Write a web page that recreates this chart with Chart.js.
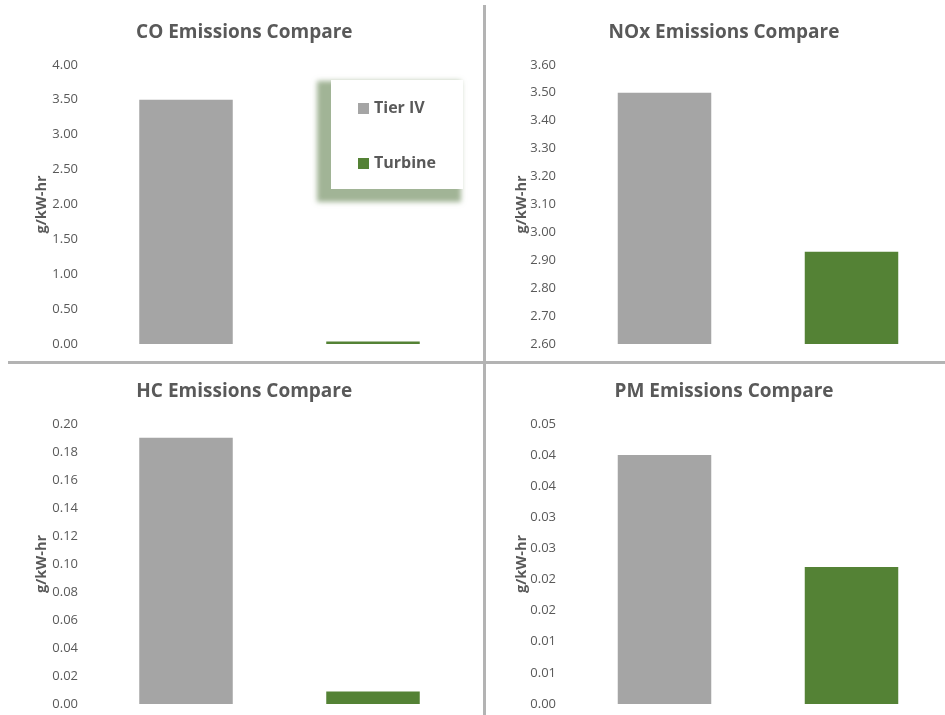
<!DOCTYPE html>
<html>
<head>
<meta charset="utf-8">
<script src="https://cdn.jsdelivr.net/npm/chart.js@4/dist/chart.umd.min.js"></script>
<style>
  html, body { margin: 0; padding: 0; background: #fff; }
  body { width: 945px; height: 715px; position: relative; overflow: hidden; font-family: "Open Sans", sans-serif; }
  canvas { position: absolute; }
  .sep { position: absolute; background: #b3b3b3; }
  #legend {
    position: absolute; left: 331px; top: 80px; width: 132px; height: 109px;
    background: #fff; box-shadow: -8px 7px 5px 6px rgba(130, 155, 115, 0.75);
  }
  .item { position: absolute; left: 27px; font-weight: 700; font-size: 16px; color: #595959; line-height: 20px; }
  .item span { display: inline-block; width: 11px; height: 11px; margin-right: 5px; vertical-align: -1px; }
</style>
</head>
<body>
<canvas id="chartCO" width="467" height="359" style="left:22px;top:0"></canvas>
<canvas id="chartNOx" width="442" height="359" style="left:503px;top:0"></canvas>
<canvas id="chartHC" width="467" height="356" style="left:22px;top:359px"></canvas>
<canvas id="chartPM" width="442" height="356" style="left:503px;top:359px"></canvas>
<div class="sep" style="left:483px;top:5px;width:3px;height:710px"></div>
<div class="sep" style="left:8px;top:361px;width:937px;height:3px"></div>
<div id="legend">
  <div class="item" style="top:17px"><span style="background:#a5a5a5"></span>Tier IV</div>
  <div class="item" style="top:72px"><span style="background:#548235"></span>Turbine</div>
</div>
<script>
const categories = ['Tier IV', 'Turbine'];
const colores = ['#a5a5a5', '#548235'];

const coValues = [3.50, 0.035];
const noxValues = [3.50, 2.93];
const hcValues = [0.19, 0.009];
const pmValues = [0.040, 0.022];

const coTicks = ['0.00', '0.50', '1.00', '1.50', '2.00', '2.50', '3.00', '3.50', '4.00'];
const noxTicks = ['2.60', '2.70', '2.80', '2.90', '3.00', '3.10', '3.20', '3.30', '3.40', '3.50', '3.60'];
const hcTicks = ['0.00', '0.02', '0.04', '0.06', '0.08', '0.10', '0.12', '0.14', '0.16', '0.18', '0.20'];
const pmTicks = ['0.00', '0.01', '0.01', '0.02', '0.02', '0.03', '0.03', '0.04', '0.04', '0.05'];

const gris = '#595959';

function crearGrafica(id, titulo, valores, etiquetas, min, max, paso, izq, arriba) {
    new Chart(document.getElementById(id), {
        type: 'bar',
        data: {
            labels: categories,
            datasets: [{
                label: titulo,
                data: valores,
                backgroundColor: colores,
                borderWidth: 0,
                barPercentage: 0.5,
                categoryPercentage: 1
            }]
        },
        options: {
            responsive: false,
            animation: false,
            layout: { padding: { left: 0, right: izq ? 22.5 : 0, top: 0, bottom: arriba ? 15 : 11 } },
            plugins: {
                legend: { display: false },
                tooltip: { enabled: false },
                title: {
                    display: true,
                    text: titulo,
                    color: gris,
                    font: { family: 'Open Sans', size: 19, weight: '700' },
                    padding: { top: 21, bottom: 21 }
                }
            },
            scales: {
                x: { display: false },
                y: {
                    min: min,
                    max: max,
                    border: { display: false },
                    grid: { display: false, drawTicks: false },
                    ticks: {
                        stepSize: paso,
                        padding: izq ? 14.5 : 15,
                        color: gris,
                        font: { family: 'Open Sans', size: 13 },
                        callback: (v, i) => etiquetas[i] !== undefined ? etiquetas[i] : v.toFixed(2)
                    },
                    title: {
                        display: true,
                        text: 'g/kW-hr',
                        color: gris,
                        font: { family: 'Open Sans', size: 14.5, weight: '700' },
                        padding: { top: izq ? 11.3 : 10, bottom: 0 }
                    },
                    afterFit: (scale) => {
                        scale.width = izq ? 70.5 : 68;
                        scale.paddingTop = 0;
                        scale.paddingBottom = 0;
                    }
                }
            }
        }
    });
}

crearGrafica('chartCO', 'CO Emissions Compare', coValues, coTicks, 0, 4, 0.5, true, true);
crearGrafica('chartNOx', 'NOx Emissions Compare', noxValues, noxTicks, 2.6, 3.6, 0.1, false, true);
crearGrafica('chartHC', 'HC Emissions Compare', hcValues, hcTicks, 0, 0.2, 0.02, true, false);
crearGrafica('chartPM', 'PM Emissions Compare', pmValues, pmTicks, 0, 0.045, 0.005, false, false);
</script>
</body>
</html>
